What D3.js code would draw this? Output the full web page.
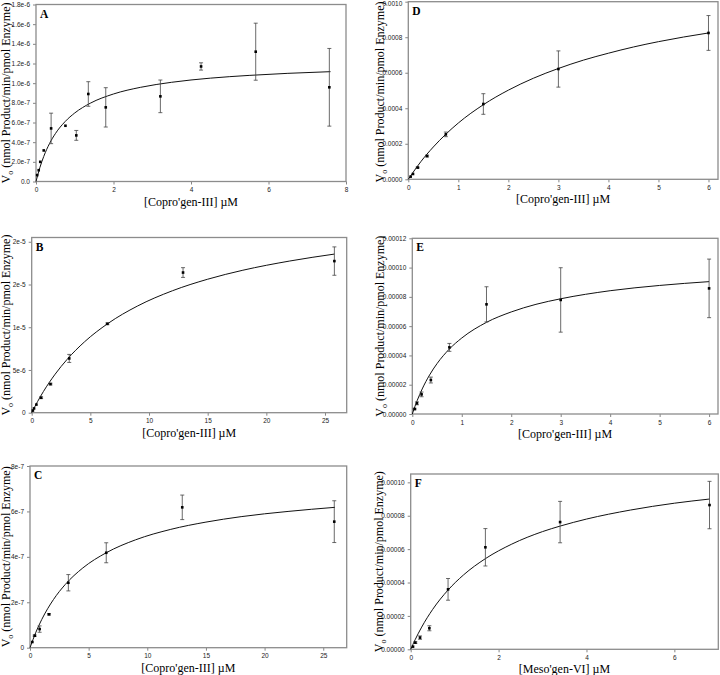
<!DOCTYPE html>
<html>
<head>
<meta charset="utf-8">
<script src="https://cdn.jsdelivr.net/npm/d3@7"></script>
<style>
  body { margin: 0; background: #fff; }
  svg { display: block; }
</style>
</head>
<body>
<svg id="fig" width="720" height="675"></svg>
<script>
// ---- panel A : Copro'gen-III
const aConc = [0.03, 0.07, 0.11, 0.2, 0.39, 0.76, 1.04, 1.35, 1.8, 3.21, 4.26, 5.67, 7.57];
const aRate = [6.5e-8, 1.15e-7, 2.0e-7, 3.16e-7, 5.4e-7, 5.67e-7, 4.69e-7, 8.9e-7, 7.54e-7, 8.66e-7, 1.17e-6, 1.32e-6, 9.58e-7];
const aErr  = [0, 0, 0, 0, 1.55e-7, 0, 5.0e-8, 1.25e-7, 2.0e-7, 1.66e-7, 3.7e-8, 2.9e-7, 3.95e-7];
const aFitX = [0, 0.1, 0.2, 0.35, 0.5, 0.75, 1, 1.4, 2, 2.7, 3.5, 4.5, 5.5, 6.5, 7.6];
const aFitY = [0, 1.42e-7, 2.55e-7, 3.87e-7, 4.87e-7, 6.09e-7, 6.97e-7, 7.96e-7, 8.9e-7, 9.58e-7, 1.009e-6, 1.051e-6, 1.079e-6, 1.1e-6, 1.117e-6];
const aYTicks = [0, 2e-7, 4e-7, 6e-7, 8e-7, 1e-6, 1.2e-6, 1.4e-6, 1.6e-6, 1.8e-6];
const aYLabels = ["0.0", "2.0e-7", "4.0e-7", "6.0e-7", "8.0e-7", "1.0e-6", "1.2e-6", "1.4e-6", "1.6e-6", "1.8e-6"];
const aXTicks = [0, 2, 4, 6, 8];

// ---- panel B
const bConc = [0.1, 0.2, 0.4, 0.8, 1.6, 3.2, 6.45, 12.9, 25.8];
const bRate = [2.5e-7, 5.0e-7, 9.5e-7, 1.75e-6, 3.35e-6, 6.35e-6, 1.04e-5, 1.64e-5, 1.774e-5];
const bErr  = [0, 0, 0, 1e-7, 1e-7, 4.7e-7, 1e-7, 5.7e-7, 1.66e-6];
const bFitX = [0, 0.5, 1, 2, 3, 4.5, 6.5, 9, 12, 15, 18, 22, 25.8];
const bFitY = [0, 1.30e-6, 2.48e-6, 4.51e-6, 6.21e-6, 8.29e-6, 1.044e-5, 1.247e-5, 1.427e-5, 1.562e-5, 1.667e-5, 1.775e-5, 1.856e-5];
const bYTicks = [0, 5e-6, 1e-5, 1.5e-5, 2e-5];
const bYLabels = ["0", "5e-6", "1e-5", "2e-5", "2e-5"];
const bXTicks = [0, 5, 10, 15, 20, 25];

// ---- panel C
const cConc = [0.2, 0.4, 0.82, 1.62, 3.27, 6.5, 12.98, 25.94];
const cRate = [2.5e-8, 5.3e-8, 8.2e-8, 1.47e-7, 2.86e-7, 4.18e-7, 6.18e-7, 5.55e-7];
const cErr  = [0, 3e-9, 1.4e-8, 3e-9, 3.6e-8, 4.4e-8, 5.4e-8, 9.2e-8];
const cFitX = [0, 0.5, 1, 2, 3, 4.5, 6.5, 9, 12, 15, 18, 22, 26];
const cFitY = [0, 6.8e-8, 1.24e-7, 2.12e-7, 2.78e-7, 3.51e-7, 4.18e-7, 4.75e-7, 5.21e-7, 5.53e-7, 5.77e-7, 6.0e-7, 6.18e-7];
const cYTicks = [0, 2e-7, 4e-7, 6e-7, 8e-7];
const cYLabels = ["0", "2e-7", "4e-7", "6e-7", "8e-7"];
const cXTicks = [0, 5, 10, 15, 20, 25];

// ---- panel D
const dConc = [0.047, 0.094, 0.1875, 0.375, 0.75, 1.5, 3, 6];
const dRate = [1.5e-5, 3.0e-5, 6.6e-5, 1.31e-4, 2.53e-4, 4.24e-4, 6.21e-4, 8.24e-4];
const dErr  = [0, 0, 3e-6, 5e-6, 1.3e-5, 5.8e-5, 1.02e-4, 9.8e-5];
const dFitX = [0, 0.1, 0.25, 0.5, 0.75, 1, 1.5, 2, 2.5, 3, 3.5, 4, 4.5, 5, 5.5, 6];
const dFitY = [0, 4.1e-5, 9.9e-5, 1.82e-4, 2.54e-4, 3.17e-4, 4.2e-4, 5.02e-4, 5.69e-4, 6.24e-4, 6.71e-4, 7.1e-4, 7.45e-4, 7.75e-4, 8.01e-4, 8.24e-4];
const dYTicks = [0, 0.0002, 0.0004, 0.0006, 0.0008, 0.001];
const dYLabels = ["0.0000", "0.0002", "0.0004", "0.0006", "0.0008", "0.0010"];
const dXTicks = [0, 1, 2, 3, 4, 5, 6];

// ---- panel E
const eConc = [0.047, 0.094, 0.1875, 0.375, 0.75, 1.5, 3, 6];
const eRate = [3.4e-6, 7.3e-6, 1.34e-5, 2.32e-5, 4.55e-5, 7.49e-5, 7.79e-5, 8.58e-5];
const eErr  = [5e-7, 1e-6, 1.6e-6, 2e-6, 2.7e-6, 1.2e-5, 2.2e-5, 2.0e-5];
const eFitX = [0, 0.05, 0.1, 0.2, 0.35, 0.5, 0.75, 1, 1.5, 2, 2.5, 3, 4, 5, 6];
const eFitY = [0, 4.9e-6, 9.3e-6, 1.71e-5, 2.67e-5, 3.44e-5, 4.44e-5, 5.19e-5, 6.26e-5, 6.97e-5, 7.49e-5, 7.87e-5, 8.42e-5, 8.78e-5, 9.04e-5];
const eYTicks = [0, 2e-5, 4e-5, 6e-5, 8e-5, 1e-4, 1.2e-4];
const eYLabels = ["0.00000", "0.00002", "0.00004", "0.00006", "0.00008", "0.00010", "0.00012"];
const eXTicks = [0, 1, 2, 3, 4, 5, 6];

// ---- panel F : Meso'gen-VI
const fConc = [0.053, 0.106, 0.2125, 0.425, 0.85, 1.7, 3.4, 6.8];
const fRate = [1.6e-6, 4.0e-6, 7.0e-6, 1.26e-5, 3.59e-5, 6.11e-5, 7.62e-5, 8.64e-5];
const fErr  = [0, 5e-7, 1e-6, 1.5e-6, 6.5e-6, 1.12e-5, 1.24e-5, 1.42e-5];
const fFitX = [0, 0.1, 0.25, 0.5, 0.85, 1.2, 1.7, 2.3, 3, 3.4, 4, 5, 6, 6.8];
const fFitY = [0, 5.7e-6, 1.33e-5, 2.39e-5, 3.55e-5, 4.45e-5, 5.43e-5, 6.3e-5, 7.05e-5, 7.38e-5, 7.8e-5, 8.34e-5, 8.75e-5, 9.0e-5];
const fYTicks = [0, 2e-5, 4e-5, 6e-5, 8e-5, 1e-4];
const fYLabels = ["0.00000", "0.00002", "0.00004", "0.00006", "0.00008", "0.00010"];
const fXTicks = [0, 2, 4, 6];

const copro = "[Copro'gen-III] \u00b5M";
const meso = "[Meso'gen-VI] \u00b5M";

// layout of every panel (pixel box + axis extent)
const panels = [
  { tag: "A", conc: aConc, rate: aRate, err: aErr, fitX: aFitX, fitY: aFitY, xTicks: aXTicks, yTicks: aYTicks, yLabels: aYLabels,
    xMax: 8, yMax: 1.8e-6, box: { left: 36, right: 346, top: 4.5, bottom: 181.5 }, labelX: 10, xTitle: copro },
  { tag: "B", conc: bConc, rate: bRate, err: bErr, fitX: bFitX, fitY: bFitY, xTicks: bXTicks, yTicks: bYTicks, yLabels: bYLabels,
    xMax: 26.85, yMax: 2.05e-5, box: { left: 31.7, right: 346.7, top: 237.5, bottom: 412.7 }, labelX: 10, xTitle: copro },
  { tag: "C", conc: cConc, rate: cRate, err: cErr, fitX: cFitX, fitY: cFitY, xTicks: cXTicks, yTicks: cYTicks, yLabels: cYLabels,
    xMax: 27, yMax: 8e-7, box: { left: 30, right: 346.7, top: 466, bottom: 647.7 }, labelX: 10, xTitle: copro },
  { tag: "D", conc: dConc, rate: dRate, err: dErr, fitX: dFitX, fitY: dFitY, xTicks: dXTicks, yTicks: dYTicks, yLabels: dYLabels,
    xMax: 6.19, yMax: 0.001, box: { left: 408.3, right: 718, top: 1.7, bottom: 179.3 }, labelX: 384, xTitle: copro },
  { tag: "E", conc: eConc, rate: eRate, err: eErr, fitX: eFitX, fitY: eFitY, xTicks: eXTicks, yTicks: eYTicks, yLabels: eYLabels,
    xMax: 6.18, yMax: 1.2e-4, box: { left: 412.3, right: 718, top: 238.3, bottom: 414 }, labelX: 384, xTitle: copro },
  { tag: "F", conc: fConc, rate: fRate, err: fErr, fitX: fFitX, fitY: fFitY, xTicks: fXTicks, yTicks: fYTicks, yLabels: fYLabels,
    xMax: 7, yMax: 1.05e-4, box: { left: 410.7, right: 718.3, top: 474, bottom: 649.3 }, labelX: 383, xTitle: meso }
];

const svg = d3.select("#fig");
const serif = "'Liberation Serif', 'Times New Roman', serif";
const sans = "'Liberation Sans', Arial, sans-serif";

function drawPanel(p) {
  const b = p.box;
  const x = d3.scaleLinear().domain([0, p.xMax]).range([b.left, b.right]);
  const y = d3.scaleLinear().domain([0, p.yMax]).range([b.bottom, b.top]);
  const g = svg.append("g");

  // axes (ticks + labels only, frame drawn separately)
  const xAxis = g.append("g")
    .attr("transform", `translate(0,${b.bottom})`)
    .call(d3.axisBottom(x).tickValues(p.xTicks).tickSize(3).tickPadding(3).tickFormat(d3.format("d")));
  const yAxis = g.append("g")
    .attr("transform", `translate(${b.left},0)`)
    .call(d3.axisLeft(y).tickValues(p.yTicks).tickSize(3).tickPadding(3).tickFormat((d, i) => p.yLabels[i]));
  [xAxis, yAxis].forEach(a => {
    a.select(".domain").remove();
    a.selectAll("line").attr("stroke", "#666").attr("stroke-width", 0.8);
    a.selectAll("text").attr("fill", "#222").style("font-family", sans).style("font-size", "6.5px");
  });
  // keep the topmost y label inside the page
  yAxis.selectAll(".tick text").filter(function () {
    return this.parentNode.getAttribute("transform").match(/,([\d.]+)\)/)[1] < 5;
  }).attr("dy", "0.55em");

  // frame
  g.append("rect")
    .attr("x", b.left).attr("y", b.top)
    .attr("width", b.right - b.left).attr("height", b.bottom - b.top)
    .attr("fill", "none").attr("stroke", "#8c8c8c").attr("stroke-width", 1.3);

  // fitted curve
  const fit = p.fitX.map((v, i) => [v, p.fitY[i]]);
  g.append("path")
    .datum(fit)
    .attr("fill", "none").attr("stroke", "#111").attr("stroke-width", 1)
    .attr("d", d3.line().x(d => x(d[0])).y(d => y(d[1])).curve(d3.curveMonotoneX));

  // measured points with error bars
  const pts = p.conc.map((c, i) => ({ c: c, v: p.rate[i], e: p.err[i] }));
  const eb = g.selectAll(".eb").data(pts.filter(d => d.e > 0)).join("g").attr("class", "eb")
    .attr("stroke", "#444").attr("stroke-width", 0.8);
  eb.append("line").attr("x1", d => x(d.c)).attr("x2", d => x(d.c))
    .attr("y1", d => y(d.v - d.e)).attr("y2", d => y(d.v + d.e));
  eb.append("line").attr("x1", d => x(d.c) - 2).attr("x2", d => x(d.c) + 2)
    .attr("y1", d => y(d.v + d.e)).attr("y2", d => y(d.v + d.e));
  eb.append("line").attr("x1", d => x(d.c) - 2).attr("x2", d => x(d.c) + 2)
    .attr("y1", d => y(d.v - d.e)).attr("y2", d => y(d.v - d.e));

  g.selectAll(".pt").data(pts).join("rect").attr("class", "pt")
    .attr("x", d => x(d.c) - 1.3).attr("y", d => y(d.v) - 1.3)
    .attr("width", 2.6).attr("height", 2.6).attr("fill", "#000");

  // panel letter
  g.append("text")
    .attr("x", b.left + 4).attr("y", b.top + 13)
    .style("font-family", serif).style("font-weight", "bold").style("font-size", "11.5px")
    .text(p.tag);

  // axis titles
  g.append("text")
    .attr("x", (b.left + b.right) / 2).attr("y", b.bottom + 24)
    .attr("text-anchor", "middle")
    .style("font-family", serif).style("font-size", "12px")
    .text(p.xTitle);

  const yt = g.append("text")
    .attr("transform", `translate(${p.labelX},${Math.max((b.top + b.bottom) / 2, 92)}) rotate(-90)`)
    .attr("text-anchor", "middle")
    .style("font-family", serif).style("font-size", "12px");
  yt.append("tspan").text("V");
  yt.append("tspan").attr("dy", 3).style("font-size", "8px").text("o");
  yt.append("tspan").attr("dy", -3).text(" (nmol Product/min/pmol Enzyme)");
}

panels.forEach(drawPanel);
</script>
</body>
</html>
